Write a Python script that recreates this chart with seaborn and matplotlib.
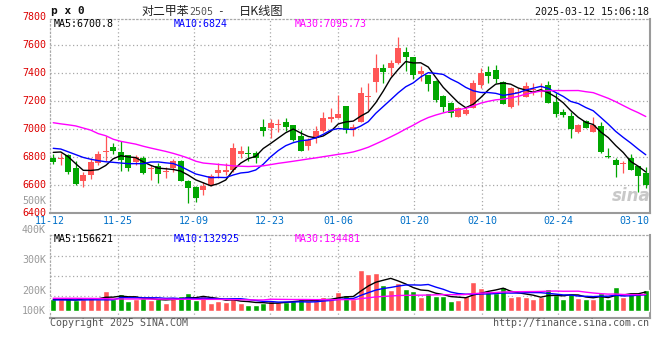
import numpy as np
import pandas as pd
import matplotlib
matplotlib.use("Agg")
import matplotlib.pyplot as plt
import matplotlib.transforms as mtransforms
import seaborn as sns

# ---------------- data ----------------
tick_labels = ["11-12", "11-25", "12-09", "12-23", "01-06", "01-20", "02-10", "02-24", "03-10"]
tick_index = [0, 9, 19, 29, 38, 48, 57, 67, 77]

open_ = [6790, 6785, 6810, 6718, 6630, 6670, 6752, 6832, 6868, 6831,
         6810, 6760, 6788, 6712, 6734, 6688, 6717, 6769, 6629, 6581,
         6562, 6598, 6686, 6688, 6705, 6819, 6828, 6829, 7012, 7003,
         7028, 7046, 7026, 6950, 6879, 6931, 6984, 7070, 7080, 7162,
         6991, 7050, 7226, 7336, 7436, 7431, 7471, 7545, 7514, 7388,
         7383, 7340, 7233, 7186, 7086, 7102, 7146, 7312, 7403, 7419,
         7331, 7152, 7255, 7229, 7274, 7260, 7312, 7193, 7121, 7090,
         6979, 7055, 6979, 7019, 6802, 6776, 6750, 6788, 6734, 6681]
high = [6820, 6825, 6820, 6768, 6690, 6793, 6843, 6948, 6898, 6910,
        6815, 6812, 6805, 6740, 6752, 6727, 6781, 6776, 6633, 6590,
        6619, 6676, 6757, 6752, 6900, 6880, 6874, 6841, 7069, 7069,
        7069, 7079, 7029, 6991, 6936, 7022, 7117, 7150, 7241, 7165,
        7031, 7295, 7329, 7534, 7460, 7491, 7653, 7586, 7514, 7448,
        7383, 7345, 7240, 7190, 7157, 7152, 7348, 7431, 7448, 7455,
        7343, 7300, 7288, 7336, 7324, 7329, 7343, 7252, 7138, 7121,
        7036, 7060, 7081, 7050, 6860, 6788, 6769, 6817, 6734, 6729]
low = [6748, 6742, 6680, 6595, 6582, 6640, 6742, 6770, 6820, 6695,
       6700, 6741, 6680, 6633, 6614, 6650, 6693, 6625, 6471, 6479,
       6526, 6590, 6650, 6669, 6693, 6788, 6770, 6752, 6950, 6931,
       6974, 6984, 6914, 6841, 6848, 6895, 6974, 7050, 7074, 6967,
       6948, 7050, 7133, 7266, 7324, 7376, 7465, 7414, 7352, 7343,
       7269, 7193, 7121, 7086, 7081, 7098, 7146, 7288, 7324, 7324,
       7174, 7145, 7169, 7225, 7241, 7230, 7181, 7086, 7086, 6936,
       6972, 7003, 6979, 6824, 6788, 6652, 6681, 6705, 6550, 6574]
close = [6765, 6792, 6688, 6602, 6668, 6760, 6820, 6838, 6843, 6775,
         6718, 6795, 6686, 6718, 6676, 6695, 6769, 6629, 6574, 6507,
         6590, 6662, 6705, 6705, 6860, 6840, 6822, 6788, 6984, 7041,
         7033, 7012, 6919, 6841, 6919, 6984, 7079, 7084, 7105, 6991,
         7014, 7257, 7231, 7436, 7407, 7471, 7574, 7514, 7383, 7414,
         7319, 7205, 7157, 7110, 7146, 7133, 7329, 7396, 7379, 7355,
         7174, 7288, 7259, 7305, 7278, 7264, 7181, 7105, 7098, 6998,
         7026, 7003, 7026, 6831, 6798, 6741, 6754, 6705, 6662, 6596]
volume_k = [102, 105, 108, 94, 99, 119, 99, 173, 99, 145,
            88, 99, 108, 94, 99, 71, 119, 128, 153, 94,
            128, 71, 88, 79, 111, 71, 51, 51, 71, 85,
            79, 79, 85, 102, 88, 88, 119, 99, 162, 136,
            99, 349, 315, 323, 221, 179, 238, 187, 170, 119,
            153, 128, 128, 85, 94, 128, 247, 196, 170, 153,
            204, 119, 128, 119, 102, 119, 187, 136, 102, 145,
            111, 102, 102, 153, 102, 204, 119, 153, 153, 179]

ma5_head = [6831, 6834, 6800, 6750]
ma10_head = [6860, 6855, 6835, 6815, 6795, 6782, 6772, 6764, 6760]
ma30_head = [7043, 7035, 7028, 7020, 7005, 6990, 6965, 6950, 6925, 6910,
             6900, 6890, 6875, 6862, 6850, 6838, 6824, 6808, 6790, 6768,
             6755, 6750, 6745, 6740, 6735, 6732, 6730, 6732, 6735]
vma5_head = [99, 99, 97, 93]
vma10_head = [94, 94, 94, 94, 94, 95, 95, 95, 95]
vma30_head = [108, 108, 108, 108, 107, 107, 106, 105, 102, 102,
              102, 102, 102, 101, 101, 101, 100, 100, 100, 99,
              99, 99, 99, 98, 97, 96, 95, 94, 94]

ma_text = ["MA5:6700.8", "MA10:6824", "MA30:7095.73"]
vma_text = ["MA5:156621", "MA10:132925", "MA30:134481"]
price_ticks = [6400, 6600, 6800, 7000, 7200, 7400, 7600, 7800]
vol_tick_labels = ["100K", "200K", "300K", "400K", "500K"]
title_code = "p x 0"
title_name = "对二甲苯"
title_contract = "2505"
title_kind = "日K线图"
stamp = "2025-03-12 15:06:18"
footer_left = "Copyright 2025 SINA.COM"
footer_right = "http://finance.sina.com.cn"

# ---------------- style ----------------
sns.set_style("white")
plt.rcParams["font.family"] = ["DejaVu Sans Mono", "DejaVu Sans"]
MONO = "DejaVu Sans Mono"
CJK = ["Noto Sans CJK SC", "DejaVu Sans"]
UP = "#ff5656"
DOWN = "#00a600"
GRID = "#a8a8a8"
FRAME = "#9a9a9a"
MA_COLORS = ["#000000", "#0000ff", "#ff00ff"]

W, H = 660, 360
fig = plt.figure(figsize=(W / 100, H / 100), dpi=100)
fig.patch.set_facecolor("white")


def fx(x):
    return x / W


def fy(y):
    return 1 - y / H


L, R = 49.5, 649.5
ax = fig.add_axes([fx(L), fy(213), (R - L) / W, (213 - 19) / H])
axv = fig.add_axes([fx(L), fy(318), (R - L) / W, (318 - 235) / H])

n = len(close)
idx = np.arange(n)
o = np.array(open_, float)
c = np.array(close, float)
hi = np.array(high, float)
lo = np.array(low, float)
v = np.array(volume_k, float)
up = c >= o
colors = [UP if u else DOWN for u in up]

# ---- moving averages ----
cs = pd.Series(c)
vs = pd.Series(v)


def with_head(series, w, head):
    m = series.rolling(w).mean().to_numpy()
    m[:len(head)] = head
    return m


ma = [with_head(cs, 5, ma5_head), with_head(cs, 10, ma10_head), with_head(cs, 30, ma30_head)]
vma = [with_head(vs, 5, vma5_head), with_head(vs, 10, vma10_head), with_head(vs, 30, vma30_head)]

# ---------------- main panel ----------------
ax.set_xlim(-0.5, n - 0.5)
ax.set_ylim(6398, 7784)
grid_x = [-0.5 + i * n / (n - 1) for i in tick_index]
for gx in grid_x[1:-1]:
    ax.axvline(gx, color=GRID, lw=0.9, ls=(0, (1, 2)), zorder=0)
for p in price_ticks[1:-1]:
    ax.axhline(p, color=GRID, lw=0.9, ls=(0, (1, 2)), zorder=0)

# wicks + bodies
ax.vlines(idx, lo, hi, colors=colors, lw=0.9, zorder=2)
body_h = np.maximum(np.abs(c - o), 7)
ax.bar(idx, body_h, bottom=np.minimum(o, c), width=0.8, color=colors,
       edgecolor="none", linewidth=0, zorder=3)
for m, col in zip(ma, MA_COLORS):
    sns.lineplot(x=idx, y=m, color=col, lw=1.0, ax=ax, zorder=4)

ax.set_xticks([])
ax.set_yticks([])
ax.set_xlabel("")
ax.set_ylabel("")
for s in ["left", "top"]:
    ax.spines[s].set_color(GRID)
    ax.spines[s].set_linestyle((0, (1, 2)))
    ax.spines[s].set_linewidth(0.9)
for s in ["right", "bottom"]:
    ax.spines[s].set_color(FRAME)
    ax.spines[s].set_linewidth(1.5)

tr = mtransforms.blended_transform_factory(ax.transAxes, ax.transData)
for p in price_ticks:
    ax.text(-0.006, p, str(p), transform=tr, ha="right", va="center",
            fontsize=7.2, color="#dd0000", family=MONO, clip_on=False)

for i, lab in zip(grid_x, tick_labels):
    ax.text(i, 6398, lab, ha="center", va="top", fontsize=7.2, color="#0070c8",
            family=MONO, clip_on=False,
            transform=ax.transData + mtransforms.ScaledTranslation(0, -3 / 100, fig.dpi_scale_trans))

# watermark
ax.text(0.97, 0.09, "sina", transform=ax.transAxes, ha="center", va="center",
        fontsize=12, fontweight="bold", style="italic", color="#c8c8c8",
        family="DejaVu Sans", zorder=1)

# ---------------- volume panel ----------------
KPX = 8.5  # K per pixel
axv.set_ylim(-7 * KPX, 76 * KPX)
dfv = pd.DataFrame({"i": idx, "vol": v, "h": [f"{i:02d}" for i in idx]})
sns.barplot(data=dfv, x="i", y="vol", hue="h", palette=dict(zip(dfv["h"], colors)),
            legend=False, dodge=False, width=0.82, saturation=1, errorbar=None,
            ax=axv, zorder=3)
axv.set_xlim(-0.5, n - 0.5)
for gx in grid_x[1:-1]:
    axv.axvline(gx, color=GRID, lw=0.9, ls=(0, (1, 2)), zorder=0)
for gy in [(311 - 255.7) * KPX, (311 - 275.7) * KPX, (311 - 295.7) * KPX]:
    axv.axhline(gy, color=GRID, lw=0.9, ls=(0, (1, 2)), zorder=0)
for m, col in zip(vma, MA_COLORS):
    sns.lineplot(x=idx, y=m, color=col, lw=1.0, ax=axv, zorder=4)
axv.set_xticks([])
axv.set_yticks([])
axv.set_xlabel("")
axv.set_ylabel("")
for s in ["left", "top"]:
    axv.spines[s].set_color(GRID)
    axv.spines[s].set_linestyle((0, (1, 2)))
    axv.spines[s].set_linewidth(0.9)
for s in ["right", "bottom"]:
    axv.spines[s].set_color(FRAME)
    axv.spines[s].set_linewidth(1.5)

trv = mtransforms.blended_transform_factory(axv.transAxes, axv.transData)
for lab, ypx in zip(vol_tick_labels, [311, 290.7, 260, 230, 200.7]):
    axv.text(-0.006, (311 - ypx) * KPX, lab, transform=trv, ha="right", va="center",
             fontsize=7.2, color="#9a9a9a", family=MONO, clip_on=False)

# ---------------- texts ----------------
for txt, col, x in zip(ma_text, MA_COLORS, [54, 174, 295]):
    fig.text(fx(x), fy(24), txt, color=col, fontsize=7.2, family=MONO, ha="left", va="center")
for txt, col, x in zip(vma_text, MA_COLORS, [54, 174, 295]):
    fig.text(fx(x), fy(239.5), txt, color=col, fontsize=7.2, family=MONO, ha="left", va="center")

fig.text(fx(51), fy(11), title_code, fontsize=8, fontweight="bold", family=MONO,
         color="#111111", ha="left", va="center")
fig.text(fx(141), fy(11.5), title_name, fontsize=8.6, family=CJK, color="#222222",
         ha="left", va="center")
fig.text(fx(189), fy(12), title_contract, fontsize=7.2, family=MONO, color="#555555",
         ha="left", va="center")
fig.text(fx(220), fy(11.5), "-", fontsize=8, family=MONO, color="#222222",
         ha="center", va="center")
fig.text(fx(239), fy(11.5), title_kind, fontsize=8.8, family=CJK, color="#222222",
         ha="left", va="center")
fig.text(fx(649), fy(12), stamp, fontsize=7.2, family=MONO, color="#111111",
         ha="right", va="center")
fig.text(fx(50), fy(323.5), footer_left, fontsize=7.2, family=MONO, color="#555555",
         ha="left", va="center")
fig.text(fx(649), fy(323.5), footer_right, fontsize=7.2, family=MONO, color="#555555",
         ha="right", va="center")

fig.savefig("out.png", dpi=100, facecolor="white")
